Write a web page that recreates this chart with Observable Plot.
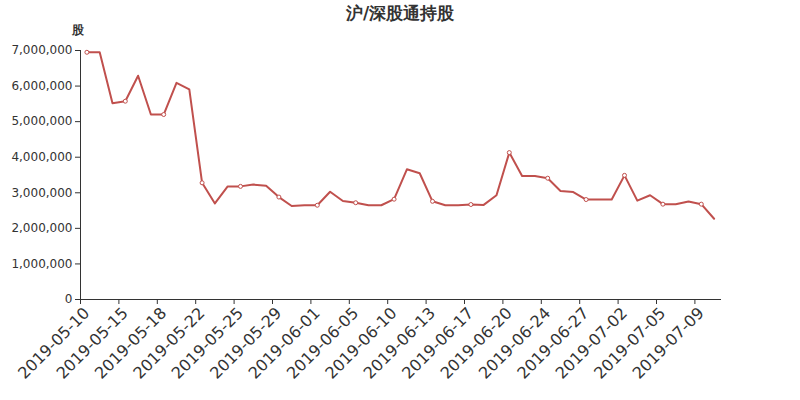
<!DOCTYPE html>
<html>
<head>
<meta charset="utf-8">
<script src="https://cdn.jsdelivr.net/npm/d3@7"></script>
<script src="https://cdn.jsdelivr.net/npm/@observablehq/plot@0.6"></script>
<style>
  body { margin: 0; background: #fff; }
  #wrap { position: relative; width: 800px; height: 400px; font-family: "DejaVu Sans", sans-serif; color: #333; }
  #title { position: absolute; top: 2px; left: 0; width: 800px; text-align: center; font-size: 17px; font-weight: bold; color: #333; }
  #unit { position: absolute; top: 22px; left: 72px; font-size: 12px; font-weight: bold; color: #333; }
</style>
</head>
<body>
<div id="wrap">
  <div id="chart"></div>
  <div id="title">沪/深股通持股</div>
  <div id="unit">股</div>
</div>
<script>
const dates = [
  "2019-05-10","2019-05-13","2019-05-14","2019-05-15","2019-05-16","2019-05-17","2019-05-18",
  "2019-05-20","2019-05-21","2019-05-22","2019-05-23","2019-05-24","2019-05-25",
  "2019-05-27","2019-05-28","2019-05-29","2019-05-30","2019-05-31","2019-06-01",
  "2019-06-03","2019-06-04","2019-06-05","2019-06-06","2019-06-08","2019-06-10",
  "2019-06-11","2019-06-12","2019-06-13","2019-06-14","2019-06-15","2019-06-17",
  "2019-06-18","2019-06-19","2019-06-20","2019-06-21","2019-06-22","2019-06-24",
  "2019-06-25","2019-06-26","2019-06-27","2019-06-28","2019-06-29","2019-07-02",
  "2019-07-03","2019-07-04","2019-07-05","2019-07-06","2019-07-08","2019-07-09","2019-07-10"
];
const values = [
  6950000, 6950000, 5520000, 5575000, 6290000, 5200000, 5200000,
  6090000, 5910000, 3280000, 2700000, 3180000, 3180000,
  3230000, 3200000, 2880000, 2630000, 2650000, 2650000,
  3030000, 2770000, 2720000, 2650000, 2650000, 2820000,
  3660000, 3550000, 2760000, 2650000, 2650000, 2670000,
  2660000, 2930000, 4130000, 3470000, 3470000, 3410000,
  3050000, 3020000, 2810000, 2810000, 2810000, 3490000,
  2780000, 2930000, 2680000, 2680000, 2755000, 2680000, 2270000
];
const yTicks = [0, 1000000, 2000000, 3000000, 4000000, 5000000, 6000000, 7000000];
const labelEvery = 3;

const data = dates.map((d, i) => ({date: d, value: values[i], i}));
const shownDates = dates.filter((d, i) => i % labelEvery === 0);
const markerData = data.filter(d => d.i % labelEvery === 0);

const W = 800, H = 400, ML = 80, MR = 80, MT = 50, MB = 101;
const halfStep = (W - ML - MR) / dates.length / 2;
const color = "#c0504d";

const chart = Plot.plot({
  width: W, height: H,
  marginLeft: ML, marginRight: MR, marginTop: MT, marginBottom: MB,
  style: {fontFamily: "DejaVu Sans, sans-serif", color: "#333", background: "#fff", overflow: "visible"},
  x: {type: "point", domain: dates, padding: 0.5, align: 0.5},
  y: {domain: [0, 7000000]},
  marks: [
    Plot.axisY({ticks: yTicks, tickFormat: d3.format(","), tickSize: 5, tickPadding: 3, label: null, fontSize: 12, stroke: "#333"}),
    Plot.frame({anchor: "left", stroke: "#333"}),
    Plot.frame({anchor: "bottom", stroke: "#333"}),
    Plot.axisX({ticks: shownDates, tickSize: 5, text: null, dx: -halfStep, stroke: "#333", label: null}),
    Plot.axisX({ticks: shownDates, tickSize: 0, tickPadding: 11, tickRotate: -45, fontSize: 16, label: null, fill: "#333"}),
    Plot.lineY(data, {x: "date", y: "value", stroke: color, strokeWidth: 2}),
    Plot.dot(markerData, {x: "date", y: "value", r: 2, fill: "#fff", stroke: color, strokeWidth: 1})
  ]
});
document.getElementById("chart").appendChild(chart);
</script>
</body>
</html>
